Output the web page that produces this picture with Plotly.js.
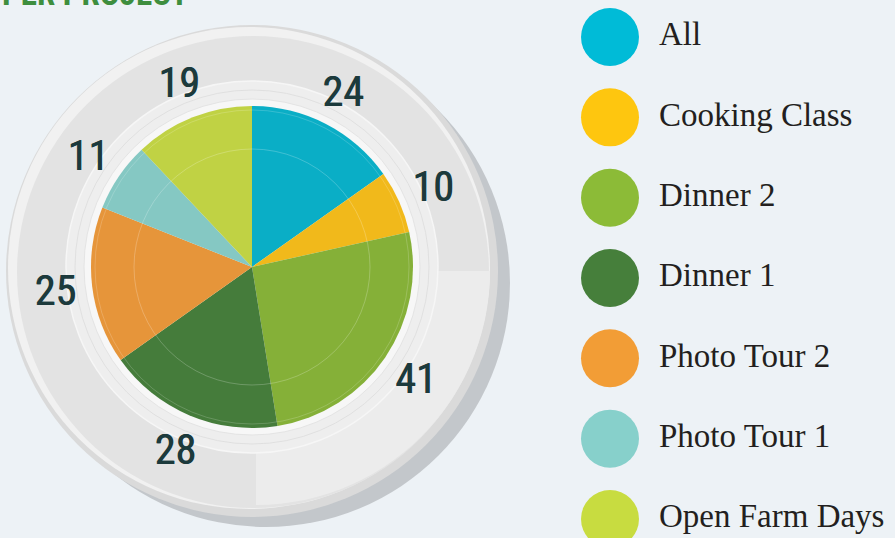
<!DOCTYPE html>
<html>
<head>
<meta charset="utf-8">
<script src="https://cdn.plot.ly/plotly-3.0.1.min.js"></script>
<style>html,body{margin:0;padding:0;background:#EDF2F6;}#chart{width:895px;height:538px;}</style>
</head>
<body>
<div id="chart"></div>
<script>
// ---- data ----
const categories = ['All', 'Cooking Class', 'Dinner 2', 'Dinner 1', 'Photo Tour 2', 'Photo Tour 1', 'Open Farm Days'];
const values = [24, 10, 41, 28, 25, 11, 19];
const sliceColors = ['#0AAEC6', '#F1B91B', '#85B038', '#457C3B', '#E6953A', '#85C8C3', '#C0D244'];
const legendColors = ['#00BBD7', '#FEC60F', '#8CBB37', '#467F3B', '#F29D36', '#87D0CB', '#C8DC40'];
const titleText = 'PER PROJECT';

const W = 895, H = 538;
function px(x) { return x / W; }
function py(y) { return 1 - y / H; }

const labelFont = "'Roboto Condensed', 'Liberation Sans Narrow', 'DejaVu Sans Condensed', sans-serif";

const traces = [
  {
    type: 'pie', values: values, labels: categories, sort: false, direction: 'clockwise',
    domain: {x: [px(91), px(413)], y: [py(428), py(106)]},
    marker: {colors: sliceColors, line: {width: 0}},
    textinfo: 'none', hoverinfo: 'label+value', showlegend: false
  },
  {
    type: 'pie', values: values, labels: categories, sort: false, direction: 'clockwise',
    domain: {x: [px(19), px(485)], y: [py(500), py(34)]},
    hole: 0.7,
    marker: {colors: values.map(() => 'rgba(0,0,0,0)'), line: {width: 0}},
    texttemplate: '%{value}', textposition: 'inside', insidetextorientation: 'horizontal',
    textfont: {family: labelFont, size: 42, color: '#1C3A3C', shadow: '0.7px 0px 0px #1C3A3C'},
    hoverinfo: 'skip', showlegend: false
  },
  {
    type: 'scatter', mode: 'markers', xaxis: 'x2', yaxis: 'y2',
    x: categories.map(() => 610), y: categories,
    marker: {size: 58, color: legendColors, line: {width: 0}},
    hoverinfo: 'skip', showlegend: false
  },
  {
    type: 'scatter', mode: 'text', xaxis: 'x2', yaxis: 'y2',
    x: categories.map(() => 659), y: categories, text: categories,
    textposition: 'middle right',
    textfont: {family: "'Liberation Serif', 'Times New Roman', serif", size: 33, color: '#231F20'},
    hoverinfo: 'skip', showlegend: false
  }
];

function circ(cx, cy, r, opts) {
  return Object.assign({type: 'circle', xref: 'x', yref: 'y', x0: cx - r, x1: cx + r, y0: cy - r, y1: cy + r, layer: 'below', line: {width: 0}}, opts);
}

// light quarter of the plate face (decoration)
function quarterPath(cx, cy, r) {
  let d = 'M ' + cx + ' ' + cy + ' L ' + (cx + r) + ' ' + cy;
  for (let i = 1; i <= 30; i++) {
    const a = (Math.PI / 2) * i / 30;
    d += ' L ' + (cx + r * Math.cos(a)).toFixed(2) + ' ' + (cy + r * Math.sin(a)).toFixed(2);
  }
  return d + ' Z';
}

const shapes = [
  circ(266, 283, 244, {fillcolor: '#C3C7CB'}),
  circ(252, 271, 246, {fillcolor: '#DADADA'}),
  circ(249, 268, 241, {fillcolor: '#F1F1F1'}),
  circ(253, 272, 236, {fillcolor: '#E3E3E3'}),
  {type: 'path', xref: 'x', yref: 'y', path: quarterPath(256, 271, 234), layer: 'below', fillcolor: '#ECECEC', line: {width: 0}},
  circ(252, 267, 186, {fillcolor: 'rgba(238,238,238,0.9)', line: {color: '#F6F6F6', width: 1.5}}),
  circ(252, 267, 177, {fillcolor: 'rgba(0,0,0,0)', line: {color: '#DCDCDC', width: 0.8}}),
  circ(252, 267, 168, {fillcolor: '#F7F7F7', line: {color: '#E4E4E4', width: 1}}),
  circ(252, 267, 118, {layer: 'above', fillcolor: 'rgba(0,0,0,0)', line: {color: 'rgba(255,255,255,0.22)', width: 1}}),
  circ(252, 267, 157, {layer: 'above', fillcolor: 'rgba(0,0,0,0)', line: {color: 'rgba(255,255,255,0.18)', width: 1}})
];

const layout = {
  width: W, height: H,
  margin: {l: 0, r: 0, t: 0, b: 0, pad: 0},
  paper_bgcolor: '#EDF2F6', plot_bgcolor: 'rgba(0,0,0,0)',
  showlegend: false,
  xaxis: {range: [0, W], visible: false, fixedrange: true, domain: [0, 1]},
  yaxis: {range: [H, 0], visible: false, fixedrange: true, domain: [0, 1]},
  xaxis2: {range: [0, W], visible: false, fixedrange: true, domain: [0, 1], anchor: 'y2'},
  yaxis2: {type: 'category', categoryarray: categories, categoryorder: 'array',
           range: [6.237, -0.461], visible: false, fixedrange: true, domain: [0, 1], anchor: 'x2'},
  shapes: shapes,
  annotations: [{
    xref: 'x', yref: 'y', x: 0, y: 15, xanchor: 'left', yanchor: 'bottom', showarrow: false,
    text: '<b>' + titleText + '</b>',
    font: {family: "'Roboto Condensed', 'DejaVu Sans Condensed', sans-serif", size: 33, color: '#3E8E3E'}
  }]
};

Plotly.newPlot('chart', traces, layout, {displayModeBar: false, staticPlot: true});
</script>
</body>
</html>
